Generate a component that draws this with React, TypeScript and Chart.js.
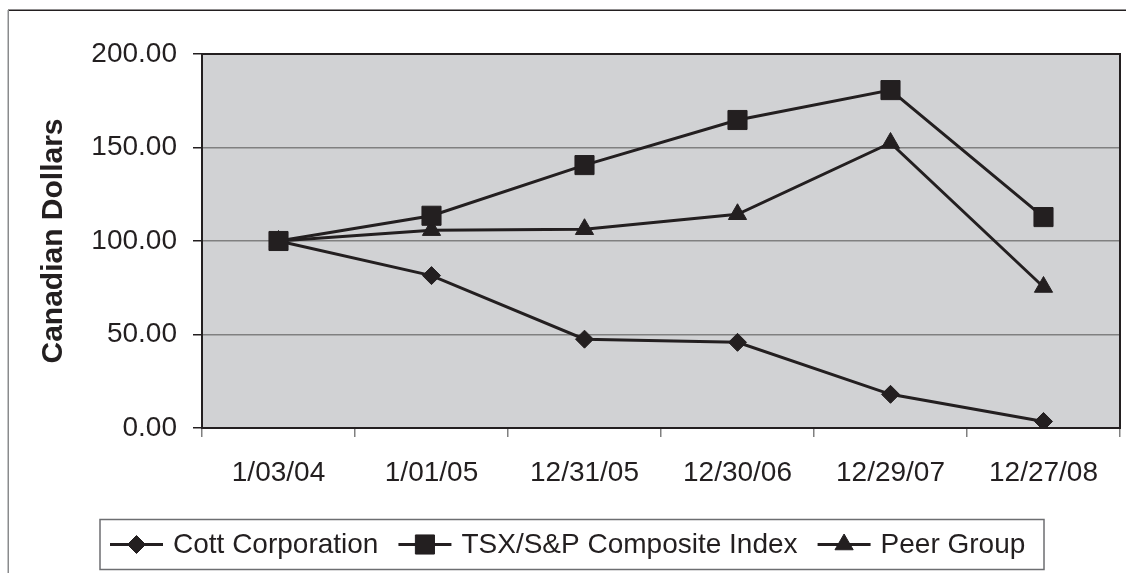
import React, { useEffect, useRef } from "react";
import { Chart, registerables } from "chart.js";
import { drawPoint } from "chart.js/helpers";

Chart.register(...registerables);

const categories = ["1/03/04", "1/01/05", "12/31/05", "12/30/06", "12/29/07", "12/27/08"];
const cottValues = [100, 81.5, 47.5, 45.8, 18, 3.5];
const tsxValues = [100, 113.5, 140.6, 164.7, 180.7, 112.8];
const peerValues = [100, 105.8, 106.3, 114.3, 152.4, 75.4];
const seriesNames = ["Cott Corporation", "TSX/S&P Composite Index", "Peer Group"];
const yMin = 0;
const yMax = 200;
const yStep = 50;
const yTitle = "Canadian Dollars";

const INK = "#231f20";
const FONT = "'Liberation Sans', Arial, Helvetica, sans-serif";

const framePlugin = {
  id: "frameAndBg",
  beforeDraw(chart: any) {
    const { ctx, chartArea: a } = chart;
    ctx.save();
    ctx.lineWidth = 1.5;
    ctx.strokeStyle = INK;
    ctx.beginPath();
    ctx.moveTo(8, 10.25);
    ctx.lineTo(chart.width, 10.25);
    ctx.stroke();
    ctx.strokeStyle = "#8a8b8d";
    ctx.beginPath();
    ctx.moveTo(8.25, 10);
    ctx.lineTo(8.25, chart.height);
    ctx.stroke();
    ctx.fillStyle = "#d1d2d4";
    ctx.fillRect(a.left, a.top, a.right - a.left, a.bottom - a.top);
    ctx.restore();
  },
  beforeDatasetsDraw(chart: any) {
    const { ctx, chartArea: a } = chart;
    ctx.save();
    ctx.strokeStyle = INK;
    ctx.lineWidth = 2;
    ctx.strokeRect(a.left, a.top, a.right - a.left, a.bottom - a.top);
    ctx.restore();
  },
};

const legendPlugin = {
  id: "boxLegend",
  afterDraw(chart: any) {
    const { ctx } = chart;
    const boxL = 100, boxT = 519.5, boxR = 1044, boxB = 569.5;
    const cy = (boxT + boxB) / 2;
    ctx.save();
    ctx.strokeStyle = "#6d6e71";
    ctx.lineWidth = 1.5;
    ctx.strokeRect(boxL, boxT, boxR - boxL, boxB - boxT);
    ctx.font = `28px ${FONT}`;
    ctx.textBaseline = "middle";
    ctx.textAlign = "left";
    let x = 110;
    chart.data.datasets.forEach((ds: any) => {
      ctx.strokeStyle = ds.borderColor;
      ctx.lineWidth = 3;
      ctx.beginPath();
      ctx.moveTo(x, cy);
      ctx.lineTo(x + 53, cy);
      ctx.stroke();
      ctx.fillStyle = ds.pointBackgroundColor;
      ctx.strokeStyle = ds.pointBorderColor;
      ctx.lineWidth = ds.pointBorderWidth;
      drawPoint(ctx, { pointStyle: ds.pointStyle, radius: ds.pointRadius, borderWidth: ds.pointBorderWidth, rotation: 0 }, x + 26.5, cy);
      ctx.fillStyle = INK;
      const tx = x + 63;
      ctx.fillText(ds.label, tx, cy + 1);
      x = tx + ctx.measureText(ds.label).width + 20;
    });
    ctx.restore();
  },
};

export default function App() {
  const ref = useRef<HTMLCanvasElement | null>(null);

  useEffect(() => {
    if (!ref.current) return;
    const mk = (label: string, data: number[], style: string, radius: number, order: number) => ({
      label,
      data,
      borderColor: INK,
      backgroundColor: INK,
      borderWidth: 3,
      tension: 0,
      pointStyle: style,
      pointRadius: radius,
      pointHoverRadius: radius,
      pointBackgroundColor: INK,
      pointBorderColor: INK,
      pointBorderWidth: 1,
      order,
    });
    const chart = new Chart(ref.current, {
      type: "line",
      data: {
        labels: categories,
        datasets: [
          mk(seriesNames[0], cottValues, "rectRot", 9, 1),
          mk(seriesNames[1], tsxValues, "rect", 13.5, 0),
          mk(seriesNames[2], peerValues, "triangle", 10.5, 2),
        ],
      },
      options: {
        animation: false,
        responsive: false,
        events: [],
        layout: { autoPadding: false, padding: { left: 0, top: 54, right: 6, bottom: 0 } },
        plugins: {
          legend: { display: false },
          tooltip: { enabled: false },
        },
        scales: {
          x: {
            type: "category",
            offset: true,
            grid: {
              offset: true,
              drawOnChartArea: false,
              drawTicks: true,
              tickLength: 9,
              tickColor: "#808080",
              lineWidth: 1.5,
            },
            border: { display: false },
            ticks: {
              color: INK,
              font: { family: FONT, size: 28 },
              padding: 19,
              maxRotation: 0,
              autoSkip: false,
            },
            afterFit(s: any) {
              s.height = 145;
              s.paddingLeft = 0;
              s.paddingRight = 0;
            },
          },
          y: {
            min: yMin,
            max: yMax,
            grid: {
              color: "#808080",
              lineWidth: 1.5,
              tickLength: 9,
              tickColor: INK,
            },
            border: { display: false },
            ticks: {
              stepSize: yStep,
              color: INK,
              font: { family: FONT, size: 28 },
              padding: 16,
              callback: (v: any) => Number(v).toFixed(2),
            },
            title: {
              display: true,
              text: yTitle,
              color: INK,
              font: { family: FONT, size: 30, weight: "bold" },
              padding: { top: 36, bottom: 0 },
            },
            afterFit(s: any) {
              s.width = 202;
            },
          },
        },
      },
      plugins: [framePlugin, legendPlugin],
    });
    return () => chart.destroy();
  }, []);

  return (
    <div style={{ position: "fixed", left: 0, top: 0, width: 1126, height: 573, background: "#fff" }}>
      <canvas ref={ref} width={1126} height={573} style={{ display: "block", width: 1126, height: 573 }} />
    </div>
  );
}
